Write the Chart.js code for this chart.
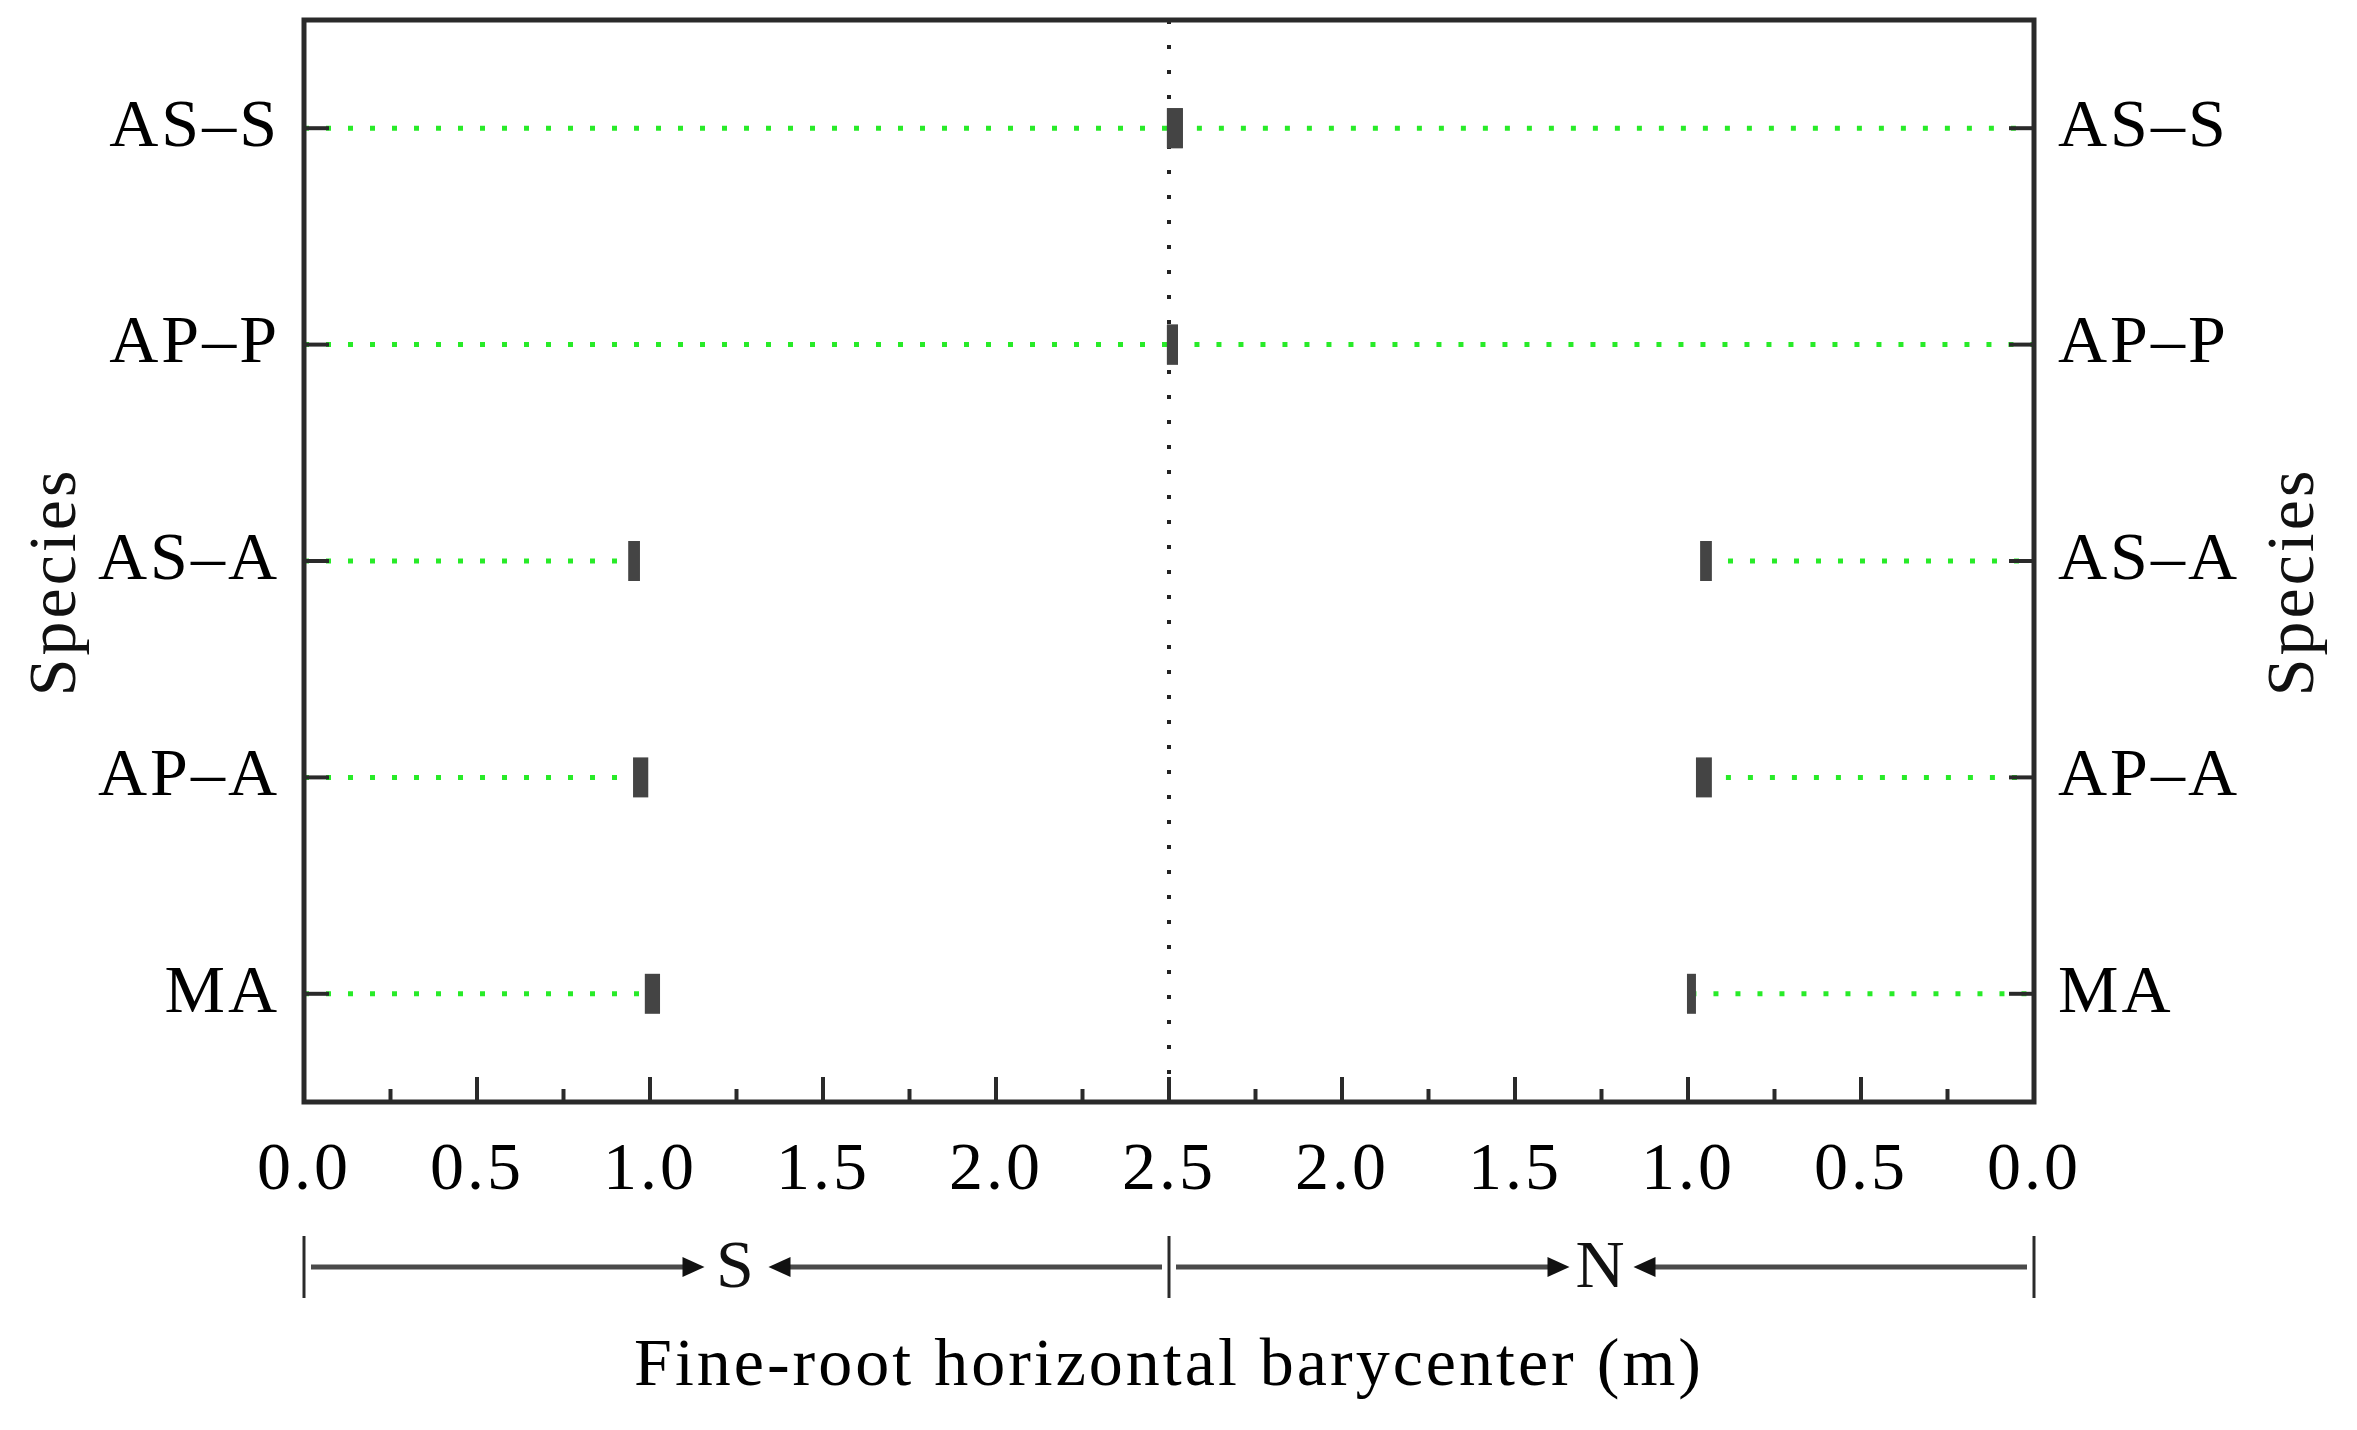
<!DOCTYPE html>
<html>
<head>
<meta charset="utf-8">
<script src="https://cdn.jsdelivr.net/npm/chart.js@4.4.1/dist/chart.umd.min.js"></script>
<style>
  html, body { margin: 0; background: #fff; }
  #wrap { width: 2357px; height: 1430px; }
</style>
</head>
<body>
<div id="wrap"><canvas id="chart"></canvas></div>
<script>
// species, top row first
const species = ['AS–S', 'AP–P', 'AS–A', 'AP–A', 'MA'];
// barycenter measured from the south edge (m) and its error
const southMean = [2.517, 2.51, 0.954, 0.973, 1.007];
const southErr = [0.023, 0.016, 0.017, 0.022, 0.022];
// barycenter measured from the north edge (m) and its error
const northMean = [2.483, 2.49, 0.948, 0.954, 0.99];
const northErr = [0.023, 0.016, 0.017, 0.023, 0.013];

const xTicks = [0, 0.5, 1, 1.5, 2, 2.5, 3, 3.5, 4, 4.5, 5];
const xTickLabels = ['0.0', '0.5', '1.0', '1.5', '2.0', '2.5', '2.0', '1.5', '1.0', '0.5', '0.0'];
const span = 5;     // S edge -> N edge
const middle = 2.5; // tree row
const sides = [
  { label: 'S', from: 0, to: 2.5 },
  { label: 'N', from: 2.5, to: 5 }
];

const serif = "'Liberation Serif', 'Times New Roman', serif";
const font = { family: serif, size: 68 };

function box(lo, hi, y) {
  return {
    data: [{ x: lo, y: y }, { x: hi, y: y }],
    showLine: true, pointRadius: 0,
    borderColor: '#444', borderWidth: 40, borderCapStyle: 'butt'
  };
}
function dots(pts) {
  return {
    data: pts, showLine: true, pointRadius: 0,
    borderColor: 'rgb(40,235,40)', borderWidth: 5, borderDash: [5, 17]
  };
}

const datasets = [];
species.forEach((sp, i) => {
  const y = i + 1;
  datasets.push(box(southMean[i] - southErr[i], southMean[i] + southErr[i], y));
  const n = span - northMean[i];
  datasets.push(box(n - northErr[i], n + northErr[i], y));
});
species.forEach((sp, i) => {
  const y = i + 1;
  datasets.push(dots([{ x: 0, y: y }, { x: southMean[i], y: y }]));
  datasets.push(dots([{ x: span - northMean[i], y: y }, { x: span, y: y }]));
});
datasets.push({
  data: [{ x: middle, y: 0.5 }, { x: middle, y: 5.5 }],
  showLine: true, pointRadius: 0,
  borderColor: '#222', borderWidth: 4, borderDash: [4, 21]
});

function seg(ctx, x1, y1, x2, y2) {
  ctx.beginPath();
  ctx.moveTo(x1, y1);
  ctx.lineTo(x2, y2);
  ctx.stroke();
}
function head(ctx, tipX, y, dir) {
  ctx.beginPath();
  ctx.moveTo(tipX, y);
  ctx.lineTo(tipX - dir * 22, y - 10);
  ctx.lineTo(tipX - dir * 22, y + 10);
  ctx.closePath();
  ctx.fill();
}
function vtext(ctx, text, cx, cy) {
  ctx.save();
  ctx.translate(cx, cy);
  ctx.rotate(-Math.PI / 2);
  ctx.fillText(text, 0, 0);
  ctx.restore();
}

// wider letter spacing to get closer to the Palatino-like original
const spacing = {
  id: 'spacing',
  beforeDraw(chart) { chart.ctx.letterSpacing = '3px'; }
};

// frame, inward ticks, S/N arrows and the axis titles for Species
const decor = {
  id: 'decor',
  afterDraw(chart) {
    const { ctx, chartArea: a, scales: { x, y } } = chart;
    ctx.save();
    ctx.strokeStyle = '#2a2a2a';
    ctx.fillStyle = '#111';
    ctx.lineWidth = 5;
    ctx.strokeRect(a.left, a.top, a.right - a.left, a.bottom - a.top);

    ctx.lineWidth = 4;
    for (let k = 1; k < span * 4; k++) {
      const px = x.getPixelForValue(k / 4);
      seg(ctx, px, a.bottom, px, a.bottom - (k % 2 === 0 ? 25 : 13));
    }
    y.ticks.forEach(t => {
      const py = y.getPixelForValue(t.value);
      seg(ctx, a.left, py, a.left + 25, py);
      seg(ctx, a.right - 25, py, a.right, py);
    });

    const rowY = 1267;
    ctx.lineWidth = 3;
    [0, middle, span].forEach(v => {
      const px = x.getPixelForValue(v);
      seg(ctx, px, rowY - 31, px, rowY + 31);
    });
    ctx.font = '68px ' + serif;
    ctx.textAlign = 'center';
    ctx.textBaseline = 'middle';
    sides.forEach(s => {
      const l = x.getPixelForValue(s.from);
      const r = x.getPixelForValue(s.to);
      const m = x.getPixelForValue((s.from + s.to) / 2);
      const gap = 32;
      ctx.strokeStyle = '#4a4a4a';
      ctx.fillStyle = '#111';
      ctx.lineWidth = 5;
      seg(ctx, l + 7, rowY, m - gap - 12, rowY);
      seg(ctx, m + gap + 12, rowY, r - 7, rowY);
      head(ctx, m - gap, rowY, 1);
      head(ctx, m + gap, rowY, -1);
      ctx.fillText(s.label, m, rowY + 2);
    });

    const midY = (a.top + a.bottom) / 2 + 21;
    vtext(ctx, 'Species', 57, midY);
    vtext(ctx, 'Species', 2295, midY);
    ctx.restore();
  }
};

const yTicks = s => { s.ticks = species.map((sp, i) => ({ value: i + 1 })); };

new Chart(document.getElementById('chart'), {
  type: 'scatter',
  data: { datasets: datasets },
  options: {
    responsive: true,
    maintainAspectRatio: false,
    animation: false,
    layout: { padding: { top: 20, left: 0, right: 0, bottom: 0 } },
    plugins: { legend: { display: false }, tooltip: { enabled: false } },
    scales: {
      x: {
        type: 'linear', min: 0, max: span, position: 'bottom',
        afterBuildTicks: s => { s.ticks = xTicks.map(v => ({ value: v })); },
        afterFit: s => { s.height = 328; s.paddingLeft = 0; s.paddingRight = 0; },
        grid: { display: false, drawTicks: false },
        border: { display: false },
        ticks: {
          padding: 28, color: '#000', font: font, maxRotation: 0, autoSkip: false,
          callback: (v, i) => xTickLabels[i]
        },
        title: {
          display: true, text: 'Fine-root horizontal barycenter (m)',
          color: '#000', font: font, padding: { top: 0, bottom: 22 }
        }
      },
      y: {
        type: 'linear', min: 0.5, max: 5.5, reverse: true, position: 'left',
        afterBuildTicks: yTicks,
        afterFit: s => { s.width = 304; s.paddingTop = 0; s.paddingBottom = 0; },
        grid: { display: false, drawTicks: false },
        border: { display: false },
        ticks: { padding: 24, color: '#000', font: font, callback: (v, i) => species[i] }
      },
      y2: {
        type: 'linear', min: 0.5, max: 5.5, reverse: true, position: 'right',
        afterBuildTicks: yTicks,
        afterFit: s => { s.width = 323; s.paddingTop = 0; s.paddingBottom = 0; },
        grid: { display: false, drawTicks: false },
        border: { display: false },
        ticks: { padding: 24, color: '#000', font: font, callback: (v, i) => species[i] }
      }
    }
  },
  plugins: [spacing, decor]
});
</script>
</body>
</html>
